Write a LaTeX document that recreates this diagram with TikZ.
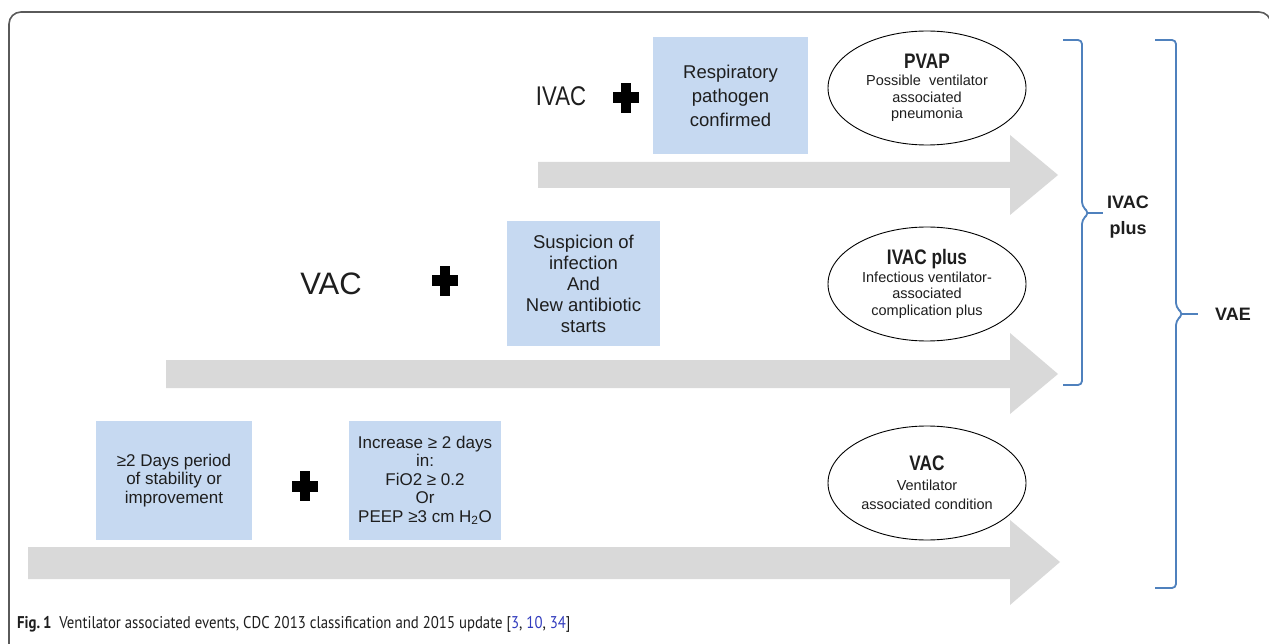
\documentclass[tikz,border=0pt]{standalone}
\usepackage{fontspec}
\setmainfont{Liberation Sans}
\newfontfamily\narrowfont{Liberation Sans}[FakeStretch=0.82]
\newfontfamily\capfont{PT Sans}[FakeStretch=0.87]
\usetikzlibrary{shapes.geometric}
\definecolor{boxblue}{RGB}{198,217,241}
\definecolor{arrgray}{RGB}{217,217,217}
\definecolor{braceblue}{RGB}{79,129,189}
\definecolor{txt}{RGB}{30,30,30}
\definecolor{refblue}{RGB}{50,60,190}
\definecolor{framegray}{RGB}{90,90,90}
\tikzset{
  bluebox/.style={fill=boxblue, align=center, text=txt, inner sep=0pt,
    font=\fontsize{18.5}{21}\selectfont},
  evt/.style={draw=black, line width=0.9pt, ellipse, minimum width=198, minimum height=114,
    inner sep=0pt, align=center, text=txt, font=\fontsize{14.5}{16.5}\selectfont},
  evttitle/.style={font=\narrowfont\fontsize{21}{22}\selectfont\bfseries},
  rowlabel/.style={text=txt, inner sep=0pt, font=\narrowfont\fontsize{27}{30}\selectfont},
  sidelabel/.style={text=txt, inner sep=0pt, align=center, font=\fontsize{18}{26}\selectfont\bfseries},
  plussign/.style={minimum width=26, minimum height=30, inner sep=0pt,
    path picture={
      \fill[black] ([xshift=-5pt,yshift=-15pt]path picture bounding box.center) rectangle ([xshift=5pt,yshift=15pt]path picture bounding box.center);
      \fill[black] ([xshift=-13pt,yshift=-5.5pt]path picture bounding box.center) rectangle ([xshift=13pt,yshift=5.5pt]path picture bounding box.center);}},
  bigarrow/.style={fill=arrgray},
  bracestyle/.style={draw=braceblue, line width=1.8pt, rounded corners=4pt},
}
\newcommand{\evtt}[1]{{\narrowfont\fontsize{21}{22}\selectfont\bfseries #1}}
\begin{document}
\begin{tikzpicture}[x=1pt,y=-1pt]
\useasboundingbox (0,0) rectangle (1269,644);
\clip (0,0) rectangle (1269,644);
\fill[white] (0,0) rectangle (1269,644);
% frame
\draw[framegray, line width=1.6pt, rounded corners=12pt] (9,660) -- (9,12) -- (1271,12) -- (1271,660);

% arrows
\fill[bigarrow] (538,162) -- (1010,162) -- (1010,135) -- (1058,175) -- (1010,215) -- (1010,188) -- (538,188) -- cycle;
\fill[bigarrow] (166,360) -- (1010,360) -- (1010,333) -- (1058,374) -- (1010,414) -- (1010,388) -- (166,388) -- cycle;
\fill[bigarrow] (28,547) -- (1010,547) -- (1010,520) -- (1060,562) -- (1010,605) -- (1010,579) -- (28,579) -- cycle;

% top row
\node[rowlabel] (ivac) at (561,96) {IVAC};
\node[plussign] (p1) at (626,98) {};
\node[bluebox, minimum width=155, minimum height=117, font=\fontsize{18.5}{24}\selectfont] (resp) at (730.5,95.5) {Respiratory\\pathogen\\confirmed};
\node[evt] (pvap) at (927,88) {\evtt{PVAP}\\[1pt]Possible\ \ ventilator\\associated\\pneumonia};

% middle row
\node[rowlabel, font=\fontsize{31}{34}\selectfont] (vac) at (331,284) {VAC};
\node[plussign] (p2) at (445,281) {};
\node[bluebox, minimum width=153, minimum height=125] (susp) at (583.5,283.5) {Suspicion of\\infection\\And\\New antibiotic\\starts};
\node[evt] (ivacplus) at (927,284) {\evtt{IVAC plus}\\[1pt]Infectious ventilator-\\associated\\complication plus};

% bottom row
\node[bluebox, minimum width=156, minimum height=119, font=\fontsize{17}{18.5}\selectfont] (stab) at (174,480.5) {\char"2265 2 Days period\\of stability or\\improvement};
\node[plussign] (p3) at (305,486) {};
\node[bluebox, minimum width=152, minimum height=119, font=\fontsize{17}{18.5}\selectfont] (incr) at (425,480.5) {Increase \char"2265{} 2 days\\in:\\FiO2 \char"2265{} 0.2\\Or\\PEEP \char"2265 3 cm H\textsubscript{2}O};
\node[evt] (vacell) at (927,483) {\evtt{VAC}\\[3pt]Ventilator\\[3pt]associated condition};

% braces
\coordinate (b1top) at (1063,40);
\coordinate (b1bot) at (1063,385);
\coordinate (b1tip) at (1103,213);
\draw[bracestyle] (b1top) -- (1082,40) -- (1082,206) -- (1089,213) -- (1082,220) -- (1082,385) -- (b1bot);
\draw[draw=braceblue, line width=1.8pt] (1088,213) -- (b1tip);
\node[sidelabel] (lab1) at (1128,217) {IVAC\\plus};

\coordinate (b2top) at (1155,40);
\coordinate (b2bot) at (1155,588);
\coordinate (b2tip) at (1198,314);
\draw[bracestyle] (b2top) -- (1176,40) -- (1176,307) -- (1183,314) -- (1176,321) -- (1176,588) -- (b2bot);
\draw[draw=braceblue, line width=1.8pt] (1182,314) -- (b2tip);
\node[sidelabel] (lab2) at (1233,314) {VAE};

% caption
\node[anchor=base west, inner sep=0pt, text=txt, font=\capfont\fontsize{17}{20}\selectfont] (cap) at (17,628)
  {\textbf{Fig.\,1}\ \ Ventilator associated events, CDC 2013 classification and 2015 update [\textcolor{refblue}{3}, \textcolor{refblue}{10}, \textcolor{refblue}{34}]};
\end{tikzpicture}
\end{document}
